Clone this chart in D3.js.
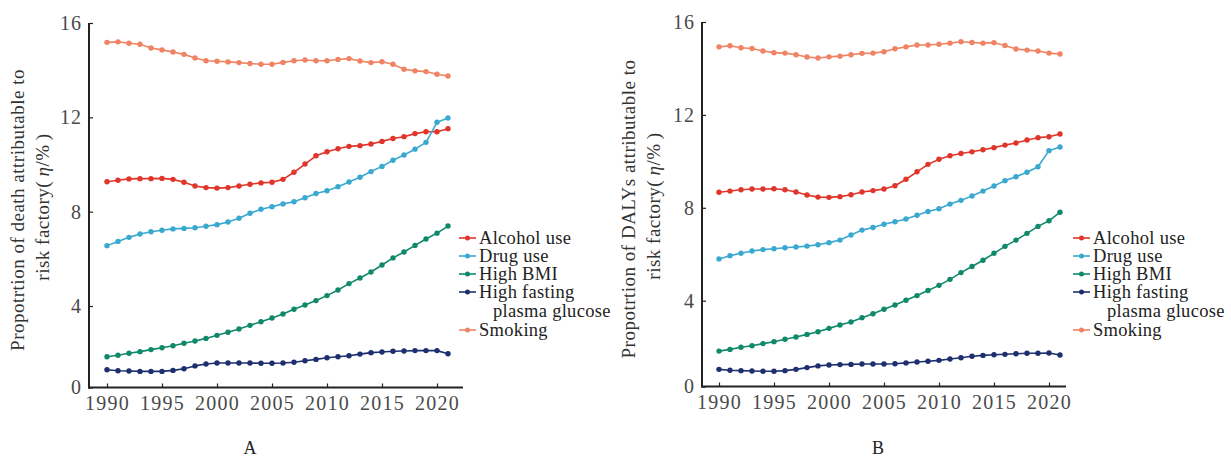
<!DOCTYPE html>
<html>
<head>
<meta charset="utf-8">
<script src="https://cdn.jsdelivr.net/npm/d3@7"></script>
<style>
  html, body { margin: 0; padding: 0; background: #fff; }
  svg { display: block; }
  text { font-family: "Liberation Serif", "Times New Roman", Times, serif; }
</style>
</head>
<body>
<svg id="chart" width="1231" height="459"></svg>
<script>
// Years shared by both panels
const years = [1990, 1991, 1992, 1993, 1994, 1995, 1996, 1997, 1998, 1999,
  2000, 2001, 2002, 2003, 2004, 2005, 2006, 2007, 2008, 2009,
  2010, 2011, 2012, 2013, 2014, 2015, 2016, 2017, 2018, 2019, 2020, 2021];

const seriesNames = ["Alcohol use", "Drug use", "High BMI", "High fasting plasma glucose", "Smoking"];
const seriesColors = ["#e0352b", "#3aa9cf", "#10896b", "#1d2f6e", "#ef8363"];

const yTicks = [0, 4, 8, 12, 16];
const xTicks = [1990, 1995, 2000, 2005, 2010, 2015, 2020];

// Panel A: share of deaths attributable to each risk factor (%)
const deathAlcohol = [9.27, 9.33, 9.39, 9.40, 9.40, 9.41, 9.37, 9.25, 9.09, 9.02,
  9.00, 9.02, 9.09, 9.16, 9.22, 9.25, 9.37, 9.67, 10.02, 10.37,
  10.54, 10.67, 10.77, 10.80, 10.87, 10.98, 11.10, 11.18, 11.31, 11.39, 11.39, 11.52];
const deathDrug = [6.56, 6.74, 6.91, 7.05, 7.15, 7.21, 7.27, 7.29, 7.32, 7.38,
  7.45, 7.56, 7.72, 7.93, 8.10, 8.21, 8.33, 8.42, 8.59, 8.77,
  8.89, 9.06, 9.26, 9.46, 9.70, 9.92, 10.18, 10.40, 10.65, 10.94, 11.79, 11.97];
const deathBMI = [1.51, 1.58, 1.68, 1.76, 1.86, 1.95, 2.05, 2.17, 2.28, 2.41,
  2.56, 2.71, 2.87, 3.05, 3.23, 3.41, 3.61, 3.84, 4.04, 4.23,
  4.44, 4.68, 4.95, 5.19, 5.44, 5.74, 6.04, 6.29, 6.57, 6.84, 7.09, 7.39];
const deathGlucose = [0.87, 0.82, 0.81, 0.79, 0.79, 0.79, 0.84, 0.92, 1.06, 1.15,
  1.20, 1.20, 1.20, 1.20, 1.19, 1.19, 1.20, 1.24, 1.31, 1.38,
  1.46, 1.51, 1.56, 1.64, 1.71, 1.74, 1.78, 1.79, 1.81, 1.81, 1.81, 1.66];
const deathSmoking = [15.18, 15.20, 15.14, 15.10, 14.94, 14.86, 14.77, 14.67, 14.52, 14.40,
  14.38, 14.35, 14.32, 14.28, 14.25, 14.25, 14.33, 14.40, 14.43, 14.40,
  14.40, 14.45, 14.49, 14.39, 14.32, 14.36, 14.25, 14.04, 13.97, 13.94, 13.83, 13.75];

// Panel B: share of DALYs attributable to each risk factor (%)
const dalyAlcohol = [8.67, 8.72, 8.78, 8.81, 8.81, 8.82, 8.78, 8.68, 8.55, 8.46,
  8.45, 8.48, 8.56, 8.68, 8.74, 8.81, 8.95, 9.23, 9.55, 9.87,
  10.09, 10.24, 10.34, 10.41, 10.50, 10.59, 10.70, 10.79, 10.92, 11.02, 11.06, 11.18];
const dalyDrug = [5.80, 5.94, 6.04, 6.14, 6.20, 6.24, 6.28, 6.31, 6.35, 6.41,
  6.50, 6.61, 6.83, 7.04, 7.15, 7.29, 7.40, 7.52, 7.68, 7.84,
  7.96, 8.16, 8.32, 8.51, 8.72, 8.94, 9.17, 9.34, 9.53, 9.77, 10.46, 10.62];
const dalyBMI = [1.65, 1.73, 1.83, 1.90, 2.00, 2.09, 2.20, 2.31, 2.43, 2.55,
  2.71, 2.87, 3.01, 3.21, 3.39, 3.60, 3.80, 4.02, 4.22, 4.44,
  4.66, 4.92, 5.21, 5.47, 5.74, 6.04, 6.34, 6.61, 6.90, 7.20, 7.44, 7.81];
const dalyGlucose = [0.80, 0.76, 0.74, 0.72, 0.71, 0.71, 0.74, 0.80, 0.88, 0.96,
  1.00, 1.02, 1.03, 1.05, 1.05, 1.05, 1.06, 1.10, 1.14, 1.18,
  1.22, 1.28, 1.34, 1.41, 1.45, 1.48, 1.50, 1.53, 1.55, 1.55, 1.56, 1.47];
const dalySmoking = [14.93, 14.98, 14.89, 14.86, 14.75, 14.68, 14.66, 14.59, 14.49, 14.45,
  14.50, 14.53, 14.59, 14.65, 14.66, 14.72, 14.85, 14.93, 15.01, 15.01,
  15.04, 15.09, 15.15, 15.12, 15.09, 15.11, 14.99, 14.84, 14.79, 14.75, 14.66, 14.62];

const svg = d3.select("#chart");

const panels = [
  {
    letter: "A",
    titleLine1: "Propotrtion of death attributable to",
    series: [deathAlcohol, deathDrug, deathBMI, deathGlucose, deathSmoking],
    axisLeft: 89, axisRight: 463,
    xRange: [107, 448],
    yRange: [387.5, 306, 23],
    titleX1: 17, titleX2: 42, titleY: 210,
    legendX: 459,
    letterX: 250
  },
  {
    letter: "B",
    titleLine1: "Propotrtion of DALYs attributable to",
    series: [dalyAlcohol, dalyDrug, dalyBMI, dalyGlucose, dalySmoking],
    axisLeft: 702, axisRight: 1066,
    xRange: [719, 1060],
    yRange: [386.5, 300.7, 22],
    titleX1: 628, titleX2: 653, titleY: 209,
    legendX: 1073,
    letterX: 878
  }
];

panels.forEach(p => {
  const g = svg.append("g");

  const x = d3.scaleLinear().domain([1990, 2021]).range(p.xRange);
  // The lower band (0-4) of the value axis is drawn compressed relative to 4-16
  const y = d3.scaleLinear().domain([0, 4, 16]).range(p.yRange);
  const y0 = y(0);

  // Axis lines
  g.append("line")
    .attr("x1", p.axisLeft).attr("x2", p.axisLeft)
    .attr("y1", y(16)).attr("y2", y0 + 1)
    .attr("stroke", "#222").attr("stroke-width", 2);
  g.append("line")
    .attr("x1", p.axisLeft - 1).attr("x2", p.axisRight)
    .attr("y1", y0).attr("y2", y0)
    .attr("stroke", "#222").attr("stroke-width", 2);

  // Y axis ticks and labels
  const yAxis = d3.axisLeft(y).tickValues(yTicks).tickFormat(d3.format("d"))
    .tickSizeInner(-4).tickSizeOuter(0).tickPadding(7);
  const yg = g.append("g").attr("transform", `translate(${p.axisLeft},0)`).call(yAxis);
  yg.select(".domain").remove();
  yg.selectAll(".tick line").attr("stroke", "#222").attr("stroke-width", 1.2);
  yg.selectAll(".tick text")
    .attr("font-size", 20).attr("fill", "#4a4a4a")
    .attr("letter-spacing", 1);

  // X axis ticks and labels
  const xAxis = d3.axisBottom(x).tickValues(xTicks).tickFormat(d3.format("d"))
    .tickSizeInner(-4).tickSizeOuter(0).tickPadding(8);
  const xg = g.append("g").attr("transform", `translate(0,${y0})`).call(xAxis);
  xg.select(".domain").remove();
  xg.selectAll(".tick line").attr("stroke", "#222").attr("stroke-width", 1.2);
  xg.selectAll(".tick text")
    .attr("font-size", 20).attr("fill", "#4a4a4a")
    .attr("letter-spacing", 1.2);

  // Y axis title (two lines, rotated)
  g.append("text")
    .attr("transform", `translate(${p.titleX1},${p.titleY}) rotate(-90)`)
    .attr("text-anchor", "middle").attr("dominant-baseline", "central")
    .attr("font-size", 19).attr("letter-spacing", 0.5).attr("fill", "#333")
    .text(p.titleLine1);
  const t2 = g.append("text")
    .attr("transform", `translate(${p.titleX2},${p.titleY - 3}) rotate(-90)`)
    .attr("text-anchor", "middle").attr("dominant-baseline", "central")
    .attr("font-size", 19).attr("letter-spacing", 0.5).attr("fill", "#333");
  t2.append("tspan").text("risk factory(\u2009");
  t2.append("tspan").attr("font-style", "italic").text("\u03B7");
  t2.append("tspan").text("/%\u2009)");

  // Series lines and markers
  const line = d3.line().x((d, i) => x(years[i])).y(d => y(d));
  p.series.forEach((vals, si) => {
    const color = seriesColors[si];
    g.append("path")
      .datum(vals)
      .attr("d", line)
      .attr("fill", "none")
      .attr("stroke", color)
      .attr("stroke-width", 1.6)
      .attr("stroke-linejoin", "round");
    g.selectAll(null)
      .data(vals)
      .join("circle")
      .attr("cx", (d, i) => x(years[i]))
      .attr("cy", d => y(d))
      .attr("r", 2.7)
      .attr("fill", color);
  });

  // Legend
  const rowY = [238, 256, 274, 292, 330];
  const leg = g.append("g");
  seriesNames.forEach((name, si) => {
    const ly = rowY[si];
    const color = seriesColors[si];
    leg.append("line")
      .attr("x1", p.legendX).attr("x2", p.legendX + 17)
      .attr("y1", ly).attr("y2", ly)
      .attr("stroke", color).attr("stroke-width", 1.6);
    leg.append("circle")
      .attr("cx", p.legendX + 8.5).attr("cy", ly).attr("r", 2.5)
      .attr("fill", color);
    const parts = name === "High fasting plasma glucose"
      ? ["High fasting", "plasma glucose"] : [name];
    parts.forEach((txt, k) => {
      leg.append("text")
        .attr("x", p.legendX + 20 + (k ? 14 : 0))
        .attr("y", ly + k * 19)
        .attr("dominant-baseline", "central")
        .attr("font-size", 18.5).attr("letter-spacing", 0.3).attr("fill", "#222")
        .text(txt);
    });
  });

  // Panel letter
  g.append("text")
    .attr("x", p.letterX).attr("y", 448)
    .attr("text-anchor", "middle").attr("dominant-baseline", "central")
    .attr("font-size", 18).attr("fill", "#222")
    .text(p.letter);
});
</script>
</body>
</html>
